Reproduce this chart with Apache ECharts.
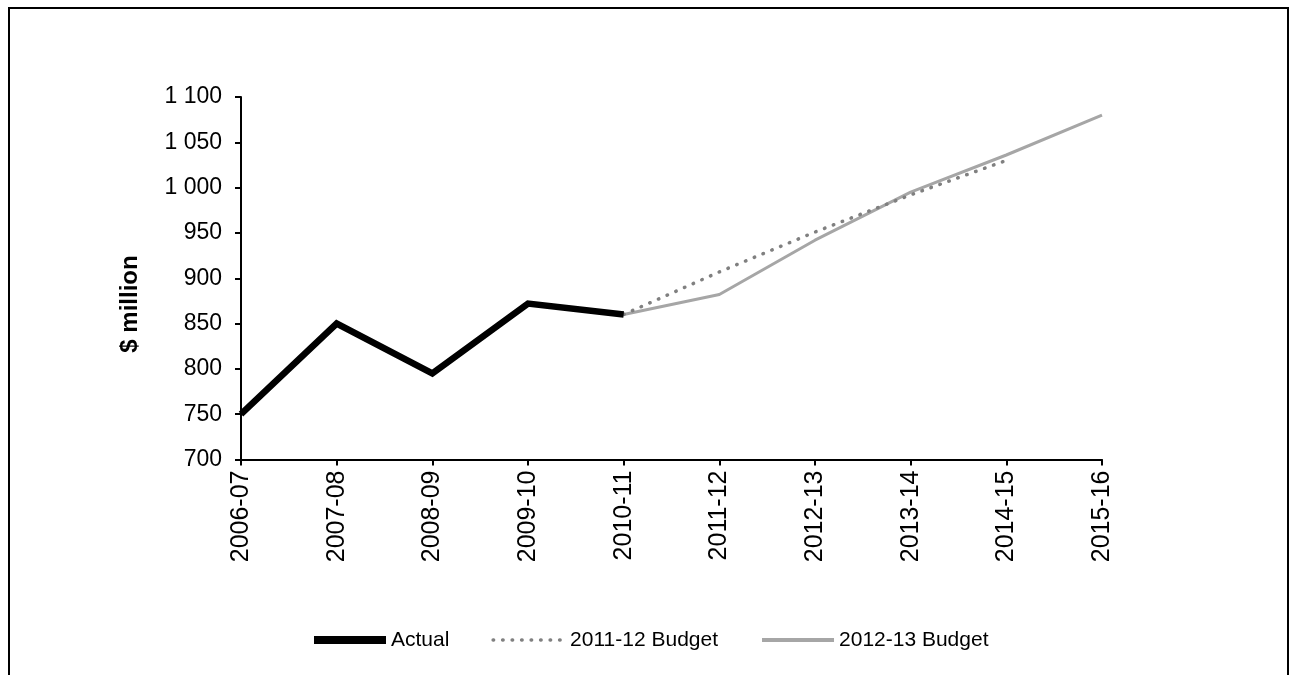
<!DOCTYPE html>
<html>
<head>
<meta charset="utf-8">
<script src="https://cdn.jsdelivr.net/npm/echarts@6/dist/echarts.min.js"></script>
<style>
  html, body { margin: 0; padding: 0; background: #fff; }
  #chart { width: 1292px; height: 675px; }
</style>
</head>
<body>
<div id="chart"></div>
<script>
// Financial years on the category axis
const years = ['2006-07', '2007-08', '2008-09', '2009-10', '2010-11',
               '2011-12', '2012-13', '2013-14', '2014-15', '2015-16'];

// $ million
const actual     = [750, 850, 795, 872, 860, null, null, null, null, null];
const budget1112 = [null, null, null, null, 860, 907, 951, 992, 1030, null];
const budget1213 = [null, null, null, null, 860, 882, 942, 995, 1036, 1080];

const seriesNames = ['Actual', '2011-12 Budget', '2012-13 Budget'];

// Y axis ticks
const yMin = 700, yMax = 1100, yStep = 50;

const FONT = '"Liberation Sans", Arial, sans-serif';

function spaced(v) {
  return String(v).replace(/\B(?=(\d{3})+(?!\d))/g, ' ');
}

const chart = echarts.init(document.getElementById('chart'), null, { renderer: 'canvas' });

chart.setOption({
  animation: false,
  backgroundColor: '#ffffff',
  textStyle: { fontFamily: FONT, color: '#000' },
  grid: { left: 241, right: 190, top: 97, bottom: 215.5, containLabel: false },
  graphic: [
    {
      type: 'rect',
      shape: { x: 9, y: 8, width: 1279, height: 720 },
      style: { fill: 'none', stroke: '#000', lineWidth: 2 },
      silent: true
    },
    {
      type: 'text',
      x: 130, y: 304,
      rotation: Math.PI / 2,
      style: {
        text: '$ million',
        font: 'bold 24px ' + FONT,
        fill: '#000',
        align: 'center',
        verticalAlign: 'middle'
      }
    }
  ],
  legend: {
    data: [
      { name: seriesNames[0], lineStyle: { width: 8 } },
      { name: seriesNames[1], lineStyle: { width: 3.5 } },
      { name: seriesNames[2], lineStyle: { width: 4 } }
    ],
    left: 305,
    top: 624.5,
    itemWidth: 72,
    itemHeight: 12,
    itemGap: 42,
    itemStyle: { opacity: 0 },
    textStyle: { fontFamily: FONT, fontSize: 21, color: '#000' }
  },
  xAxis: {
    type: 'category',
    data: years,
    boundaryGap: false,
    axisLine: { lineStyle: { color: '#000', width: 2 } },
    axisTick: { show: true, length: 6, lineStyle: { color: '#000', width: 2 }, alignWithLabel: true },
    axisLabel: { rotate: 90, fontSize: 25, color: '#000', margin: 11, fontFamily: FONT }
  },
  yAxis: {
    type: 'value',
    min: yMin, max: yMax, interval: yStep,
    axisLine: { show: true, lineStyle: { color: '#000', width: 2 } },
    axisTick: { show: true, length: 6, lineStyle: { color: '#000', width: 2 } },
    splitLine: { show: false },
    axisLabel: { fontSize: 23, color: '#000', margin: 19, fontFamily: FONT, formatter: spaced }
  },
  series: [
    {
      name: seriesNames[0],
      type: 'line',
      data: actual,
      symbol: 'none',
      color: '#000000',
      lineStyle: { color: '#000000', width: 6.5, join: 'miter' },
      z: 4
    },
    {
      name: seriesNames[1],
      type: 'line',
      data: budget1112,
      symbol: 'none',
      color: '#808080',
      lineStyle: { color: '#808080', width: 3.5, type: [0.5, 9], cap: 'round' },
      z: 3
    },
    {
      name: seriesNames[2],
      type: 'line',
      data: budget1213,
      symbol: 'none',
      color: '#a6a6a6',
      lineStyle: { color: '#a6a6a6', width: 3 },
      z: 2
    }
  ]
});
</script>
</body>
</html>
